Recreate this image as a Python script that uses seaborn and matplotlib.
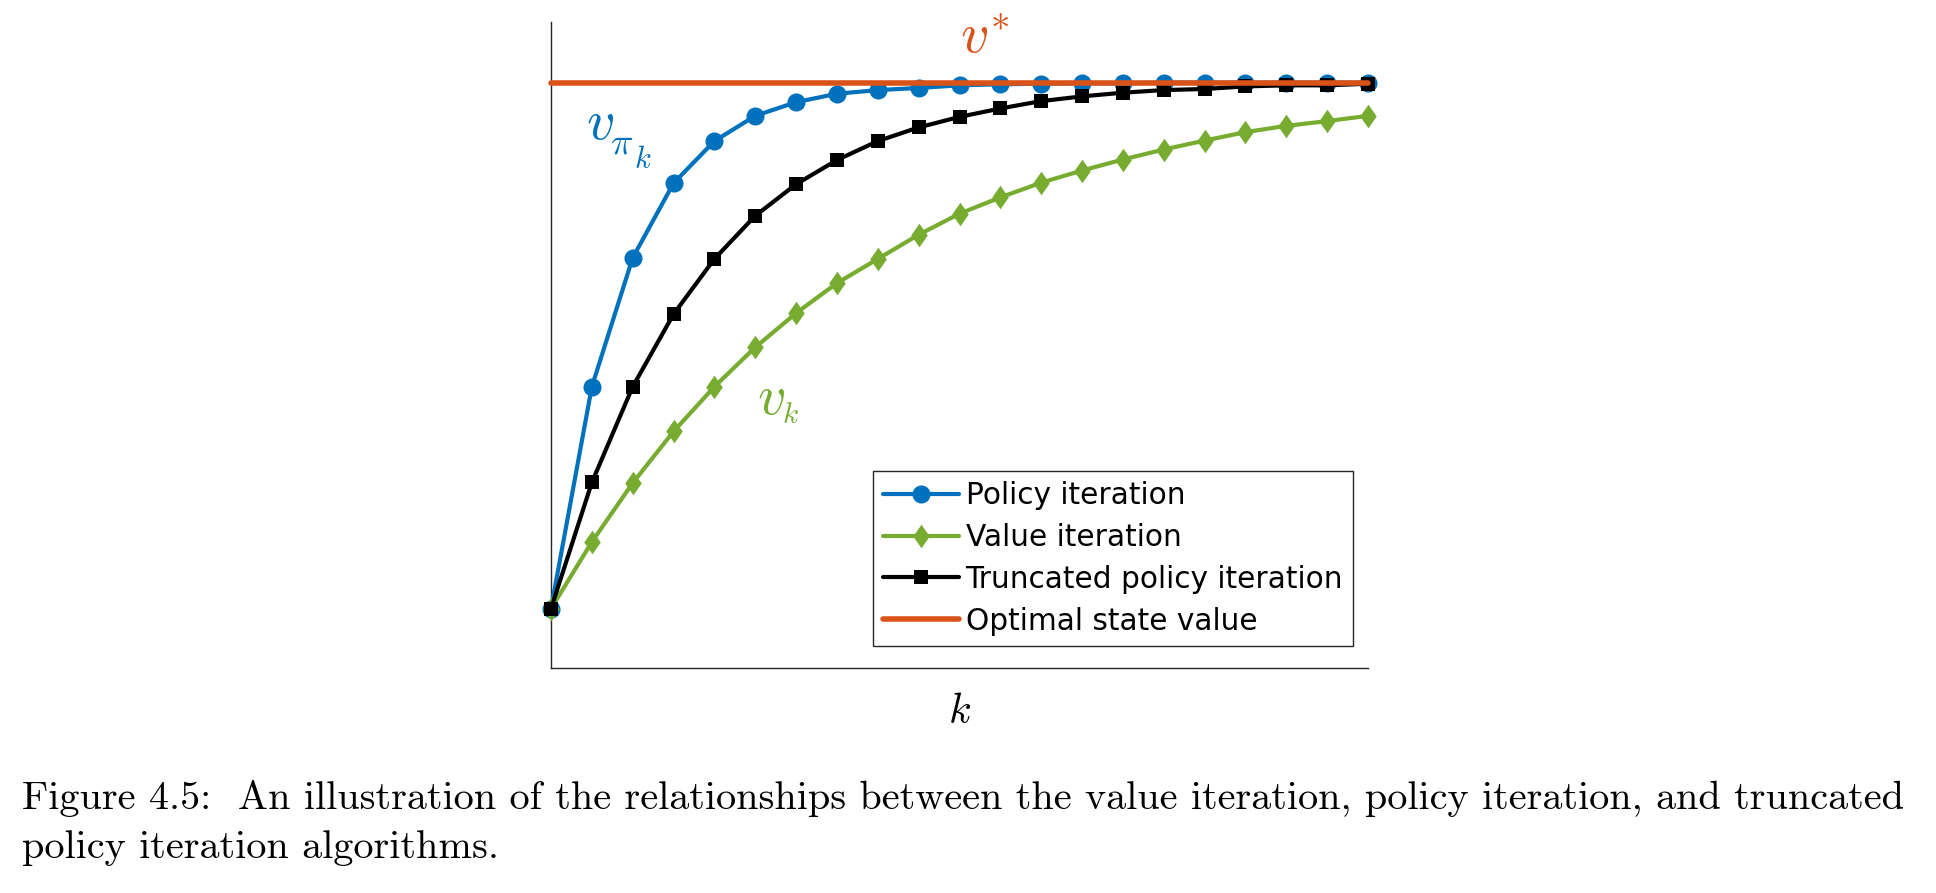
import matplotlib
matplotlib.use("Agg")
import matplotlib.pyplot as plt
import seaborn as sns
import pandas as pd

# values (v* normalised to 1, start value 0)
k = list(range(21))
policy_iter = [0.0, 0.422, 0.667, 0.809, 0.889, 0.937, 0.963, 0.979, 0.986, 0.990, 0.995,
               0.997, 0.998, 0.999, 0.999, 1.0, 1.0, 1.0, 1.0, 1.0, 1.0]
value_iter = [0.0, 0.127, 0.239, 0.337, 0.422, 0.497, 0.562, 0.619, 0.665, 0.711, 0.751,
              0.782, 0.810, 0.833, 0.854, 0.873, 0.890, 0.906, 0.918, 0.927, 0.937]
truncated_iter = [0.0, 0.240, 0.422, 0.560, 0.665, 0.747, 0.807, 0.853, 0.889, 0.915, 0.935,
                  0.951, 0.965, 0.974, 0.981, 0.986, 0.988, 0.993, 0.995, 0.995, 0.998]
v_star = 1.0

labels = ["Policy iteration", "Value iteration", "Truncated policy iteration", "Optimal state value"]
colors = ["#0072BD", "#77AC30", "#000000", "#D95319"]

df = pd.DataFrame({"k": k, "policy": policy_iter, "value": value_iter,
                   "truncated": truncated_iter, "optimal": [v_star] * len(k)})

sns.set_style("white")
plt.rcParams["mathtext.fontset"] = "cm"

W, H = 1936, 893
fig = plt.figure(figsize=(W / 100, H / 100), dpi=100)
ax = fig.add_axes([551 / W, 1 - 668 / H, (1368 - 551) / W, (668 - 22) / H])

diamond = [(0, 1), (0.7, 0), (0, -1), (-0.7, 0)]

sns.lineplot(data=df, x="k", y="policy", ax=ax, color=colors[0], lw=3, marker="o",
             markersize=13, markeredgewidth=0, clip_on=False, label=labels[0], zorder=3)
sns.lineplot(data=df, x="k", y="value", ax=ax, color=colors[1], lw=3, marker=diamond,
             markersize=17, markeredgewidth=0, clip_on=False, label=labels[1], zorder=3)
sns.lineplot(data=df, x="k", y="truncated", ax=ax, color=colors[2], lw=3, marker="s",
             markersize=10, markeredgewidth=0, clip_on=False, label=labels[2], zorder=4)
sns.lineplot(data=df, x="k", y="optimal", ax=ax, color=colors[3], lw=4,
             clip_on=False, label=labels[3], zorder=5)

ax.set_xlim(0, 20)
ax.set_ylim(-0.1127, 1.1154)
ax.set_xlabel("")
ax.set_ylabel("")
ax.tick_params(left=False, bottom=False, labelleft=False, labelbottom=False)
for s in ["top", "right"]:
    ax.spines[s].set_visible(False)
for s in ["left", "bottom"]:
    ax.spines[s].set_color("#262626")
    ax.spines[s].set_linewidth(1.0)

leg = ax.legend(loc="upper left", bbox_to_anchor=(873 / W, 1 - 471 / H),
                bbox_transform=fig.transFigure, borderaxespad=0,
                prop={"family": "DejaVu Sans", "size": 21.3},
                handlelength=2.55, handletextpad=0.23, borderpad=0.35,
                labelspacing=0.43, fancybox=False, framealpha=1, numpoints=1,
                labelcolor="black")
leg.get_frame().set_edgecolor("#262626")
leg.get_frame().set_linewidth(1.0)

def ftext(x, y, s, **kw):
    fig.text(x / W, 1 - y / H, s, va="baseline", **kw)

# curve labels, sub/superscripts placed by hand like the original
ftext(960, 53, r"$v^{*}$", color=colors[3], fontsize=40)
ftext(586, 139, r"$v$", color=colors[0], fontsize=40)
ftext(610, 153, r"$\pi$", color=colors[0], fontsize=27)
ftext(634, 168, r"$k$", color=colors[0], fontsize=22)
ftext(757, 414, r"$v$", color=colors[1], fontsize=40)
ftext(782, 423, r"$k$", color=colors[1], fontsize=21)
ftext(948, 723, r"$k$", color="black", fontsize=30)

cap = dict(family="cmr10", fontsize=28.95, color="black")
ftext(22, 809, "Figure 4.5:  An illustration of the relationships between the value iteration, "
               "policy iteration, and truncated", **cap)
ftext(22, 858, "policy iteration algorithms.", **cap)

fig.savefig("out.png", dpi=100)
